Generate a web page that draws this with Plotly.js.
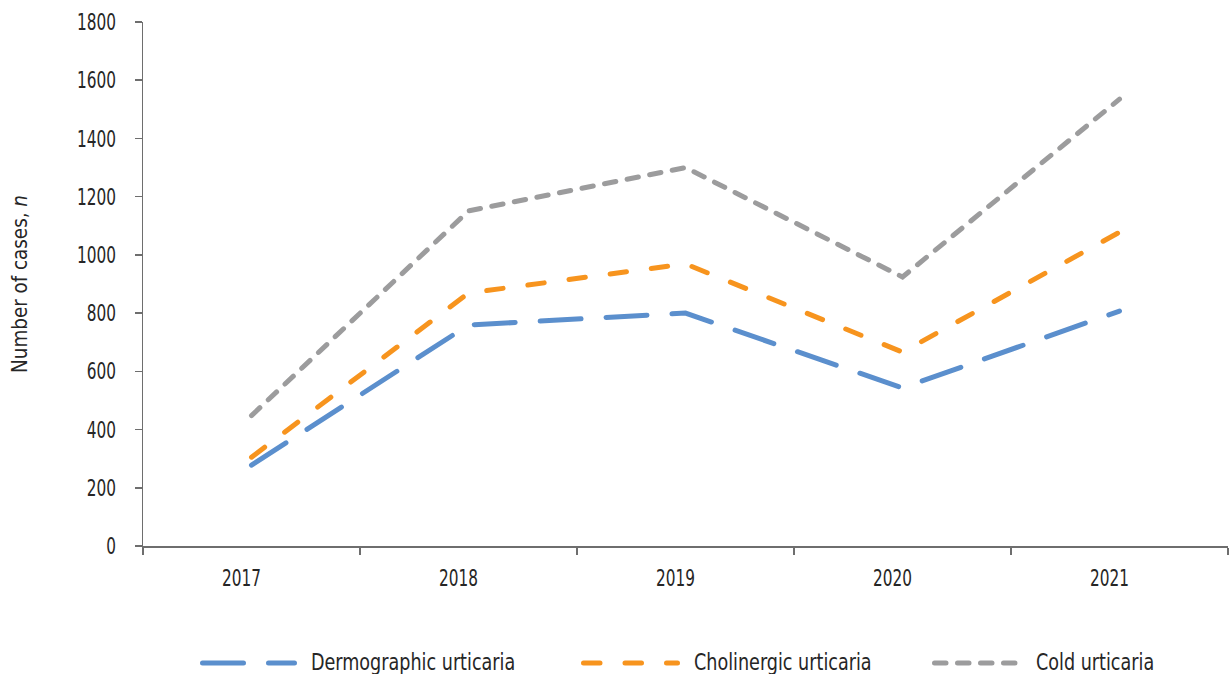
<!DOCTYPE html>
<html>
<head>
<meta charset="utf-8">
<script src="https://cdn.plot.ly/plotly-3.0.1.min.js"></script>
<style>
  html, body { margin: 0; padding: 0; background: #ffffff; }
  #chart { width: 1229px; height: 674px; }
  /* rounded dash ends on the series lines and the legend keys */
  .scatterlayer .js-line, .shapelayer path { stroke-linecap: round !important; }
</style>
</head>
<body>
<div id="chart"></div>
<script>
// Urticaria cases per year
const years = ['2017', '2018', '2019', '2020', '2021'];
const seriesNames = ['Dermographic urticaria', 'Cholinergic urticaria', 'Cold urticaria'];
const dermographic = [278, 759, 800, 543, 807];
const cholinergic = [305, 869, 969, 666, 1078];
const cold = [448, 1151, 1300, 924, 1535];
const yTickValues = [0, 200, 400, 600, 800, 1000, 1200, 1400, 1600, 1800];
const yAxisTitle = 'Number of cases, <i>n</i>';

// styling
const seriesValues = [dermographic, cholinergic, cold];
const colors = ['#5b8fcd', '#f7941e', '#9c9c9d'];
const dashes = ['41px,25px', '16.5px,25px', '11.5px,11.5px'];
const lineWidth = 5;
const FONT = '"DejaVu Sans Condensed", "Liberation Sans Narrow", sans-serif';
const textColor = '#262626';
const axisColor = '#6e6e6e';

// page geometry (px)
const W = 1229, H = 674;
const M = { l: 143, r: 1, t: 22, b: 128 };
const plotW = W - M.l - M.r, plotH = H - M.t - M.b;
const px2x = p => (p - M.l) / plotW;
const px2y = p => (H - M.b - p) / plotH;

const traces = seriesValues.map((vals, i) => ({
  type: 'scatter',
  mode: 'lines',
  name: seriesNames[i],
  x: years,
  y: vals,
  line: { color: colors[i], width: lineWidth, dash: dashes[i] },
  hoverinfo: 'x+y+name',
  showlegend: false
}));

// legend keys drawn below the plot
const legendKeys = [
  { x0: 202.5, x1: 294.5, tx: 309 },
  { x0: 583.5, x1: 677.5, tx: 692 },
  { x0: 934.5, x1: 1019.5, tx: 1034 }
];
const shapes = legendKeys.map((k, i) => ({
  type: 'line', xref: 'paper', yref: 'paper',
  x0: px2x(k.x0), x1: px2x(k.x1), y0: px2y(663), y1: px2y(663),
  line: { color: colors[i], width: lineWidth, dash: dashes[i] }
}));
const annotations = legendKeys.map((k, i) => ({
  xref: 'paper', yref: 'paper', x: px2x(k.tx), y: px2y(662),
  xanchor: 'left', yanchor: 'middle', showarrow: false,
  text: seriesNames[i],
  font: { family: FONT, size: 23, color: textColor }
}));

const layout = {
  width: W, height: H,
  margin: M,
  paper_bgcolor: '#ffffff',
  plot_bgcolor: '#ffffff',
  showlegend: false,
  font: { family: FONT, size: 23, color: textColor },
  xaxis: {
    type: 'category',
    range: [-0.5, 4.5],
    tickson: 'boundaries',
    ticks: 'outside', ticklen: 7, tickwidth: 1.5, tickcolor: axisColor,
    showline: true, linecolor: axisColor, linewidth: 1.5,
    showgrid: false, zeroline: false,
    ticklabelstandoff: 11,
    ticklabelshift: -10,
    tickfont: { family: FONT, size: 23, color: textColor },
    fixedrange: true
  },
  yaxis: {
    range: [0, 1800],
    tickvals: yTickValues,
    ticktext: yTickValues.map(String),
    ticks: 'outside', ticklen: 7, tickwidth: 1.5, tickcolor: axisColor,
    showline: true, linecolor: axisColor, linewidth: 1.5,
    showgrid: false, zeroline: false,
    ticklabelstandoff: 14,
    tickfont: { family: FONT, size: 23, color: textColor },
    title: { text: yAxisTitle, font: { family: FONT, size: 21, color: textColor }, standoff: 30 },
    fixedrange: true
  },
  shapes: shapes,
  annotations: annotations
};

// narrow the glyphs of a set of text nodes; keepLeft holds the left edge of
// middle-anchored text in place
function condense(gd, selector, factor, keepLeft) {
  gd.querySelectorAll(selector).forEach(t => {
    const w = t.getComputedTextLength();
    if (w > 0) {
      const nw = w * factor;
      t.setAttribute('textLength', nw.toFixed(1));
      t.setAttribute('lengthAdjust', 'spacingAndGlyphs');
      if (keepLeft) {
        const x = parseFloat(t.getAttribute('x')) || 0;
        t.setAttribute('x', (x - (w - nw) / 2).toFixed(1));
      }
    }
  });
}

Plotly.newPlot('chart', traces, layout, { displayModeBar: false, staticPlot: true }).then(gd => {
  condense(gd, '.xtick text, .ytick text', 0.74, false);
  condense(gd, '.annotation-text', 0.85, true);
  condense(gd, '.ytitle', 0.97, false);
});
</script>
</body>
</html>
